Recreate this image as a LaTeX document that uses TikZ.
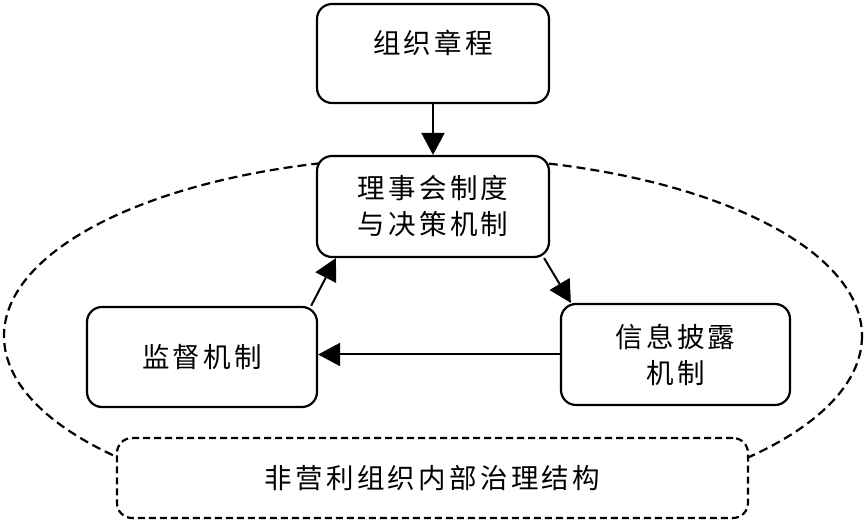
\documentclass[tikz,border=0pt]{standalone}
\usepackage{fontspec}
\newfontfamily\cjk[LetterSpace=12]{Noto Sans CJK SC}
\usetikzlibrary{arrows.meta}

\begin{document}
\begin{tikzpicture}[x=1pt, y=-1pt,
    font=\cjk\fontsize{27.5}{36}\selectfont,
    >={Triangle[length=22pt, width=23pt]},
    box/.style={draw, line width=2.2pt, rounded corners=15pt, fill=white,
      align=center, inner sep=0pt},
    flow/.style={->, line width=2pt}]
  \useasboundingbox (0,0) rectangle (865,521);

  % ----- outer dashed ellipse -----
  \draw[line width=2.2pt, dash pattern=on 9pt off 5pt] (433,336) ellipse [x radius=429, y radius=179];

  % ----- boxes -----
  \node[box, minimum width=232pt, minimum height=99pt,
    label={[yshift=11pt]center:组织章程}] (charter) at (433,53.5) {};
  \node[box, minimum width=232pt, minimum height=101pt] (board) at (433,206.5)
    {理事会制度\\与决策机制};
  \node[box, minimum width=230pt, minimum height=100pt] (supervise) at (202,357)
    {监督机制};
  \node[box, minimum width=229pt, minimum height=101pt] (disclose) at (675.5,354.5)
    {信息披露\\机制};
  \node[box, dash pattern=on 7pt off 4pt, minimum width=631pt, minimum height=80pt]
    (structure) at (432.5,478) {非营利组织内部治理结构};

  % ----- arrows -----
  \draw[flow] (charter.south) -- (board.north);
  \draw[flow] ([xshift=-7pt]supervise.north east) -- ([xshift=20pt]board.south west);
  \draw[flow] ([xshift=-6pt]board.south east) -- ([xshift=11pt]disclose.north west);
  \draw[flow] (disclose.west) -- (supervise.east |- disclose.west);
\end{tikzpicture}
\end{document}
